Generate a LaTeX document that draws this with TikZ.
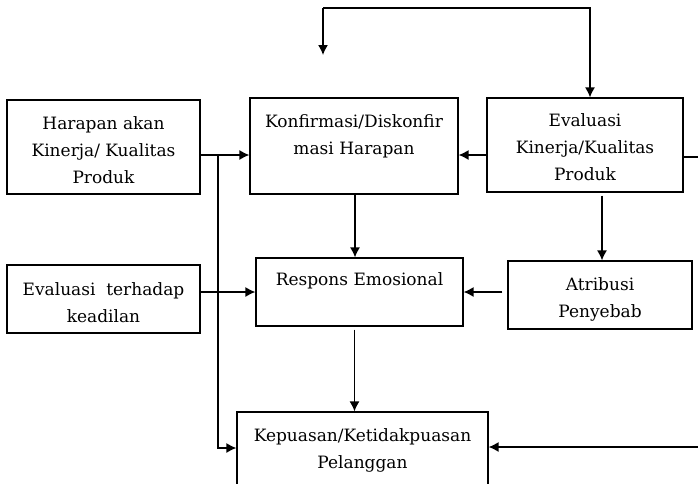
\documentclass[tikz,border=0pt]{standalone}
\usepackage{fontspec}
\setmainfont{DejaVu Serif}
\usetikzlibrary{arrows.meta,calc}
\begin{document}
\begin{tikzpicture}[x=1pt,y=-1pt,
  box/.style={draw,line width=1.2pt,inner sep=0pt},
  txt/.style={align=center,inner sep=0pt,font=\fontsize{17}{27}\selectfont},
  conn/.style={line width=1.4pt},
  arr/.style={line width=1.4pt,-{Latex[length=10pt,width=10pt]}}]
\useasboundingbox (0,0) rectangle (698,483);
\clip (0,0) rectangle (698,483);
% boxes
\node[box,minimum width=193pt,minimum height=94pt] (har) at (103.5,147) {};
\node[box,minimum width=208pt,minimum height=96pt] (konf) at (354,146) {};
\node[box,minimum width=196pt,minimum height=94pt] (evk) at (585,145) {};
\node[box,minimum width=193pt,minimum height=68pt] (evt) at (103.5,299) {};
\node[box,minimum width=207pt,minimum height=68pt] (resp) at (359.5,292) {};
\node[box,minimum width=184pt,minimum height=68pt] (atr) at (600,295) {};
\node[box,minimum width=251pt,minimum height=96pt] (kep) at (362.5,460) {};
% texts
\node[txt] (harT) at (103.5,150) {Harapan akan\\Kinerja/ Kualitas\\Produk};
\node[txt] (konfT) at (354,136) {Konfirmasi/Diskonfir\\masi Harapan};
\node[txt] (evkT) at (585,147) {Evaluasi\\Kinerja/Kualitas\\Produk};
\node[txt] (evtT) at (103.5,303) {Evaluasi\ \ terhadap\\keadilan};
\node[txt] (respT) at (359.5,281) {Respons Emosional};
\node[txt] (atrT) at (600,299) {Atribusi\\Penyebab};
\node[txt] (kepT) at (362.5,450) {Kepuasan/Ketidakpuasan\\Pelanggan};
% connectors
\coordinate (t1) at (323,8);
\coordinate (t2) at (590,8);
\coordinate (ta) at (323,55);
\draw[arr] (t1) -- (t2) -- (t2 |- evk.north);
\draw[arr] (t1) -- (ta);
\coordinate (h1) at ($(har.east)+(0,8)$);
\draw[arr] (h1) -- (h1 -| konf.west);
\coordinate (j) at (218,155);
\coordinate (jk) at ($(kep.west)+(0,-12)$);
\draw[arr] (j) |- (jk);
\coordinate (e1) at ($(evk.west)+(0,10)$);
\draw[arr] (e1) -- (e1 -| konf.east);
\coordinate (k0) at ($(konf.south)+(1,0)$);
\draw[arr] (k0) -- (k0 |- resp.north);
\coordinate (v1) at ($(evt.east)+(0,-7)$);
\draw[arr] (v1) -- (v1 -| resp.west);
\coordinate (g0) at ($(evk.south)+(17,3)$);
\draw[arr] (g0) -- (g0 |- atr.north);
\coordinate (a1) at ($(atr.west)+(-5,-3)$);
\draw[arr] (a1) -- (a1 -| resp.east);
\coordinate (r0) at ($(resp.south)+(-5,3)$);
\draw[arr] (r0) -- (r0 |- kep.north);
\coordinate (r1) at (698,157);
\draw[conn] ($(evk.east)+(0,12)$) -- (r1);
\coordinate (r2) at (698,447);
\draw[arr] (r2) -- (r2 -| kep.east);
\end{tikzpicture}
\end{document}
